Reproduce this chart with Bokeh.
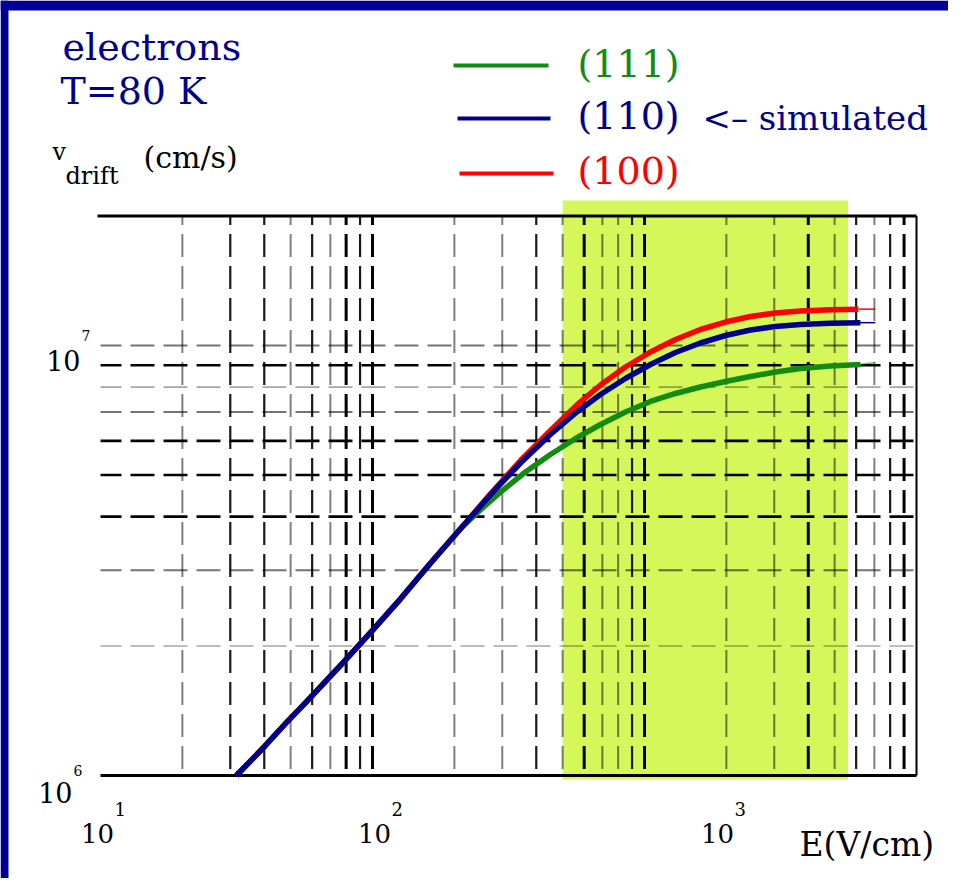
import math
from bokeh.plotting import figure
from bokeh.models import Range1d
from bokeh.core.properties import value
from bokeh.embed import file_html
from bokeh.resources import INLINE

# ---------------- data ----------------
# electric field E (V/cm) and drift velocity v (cm/s)
e_100 = [31.6, 38.8, 47.9, 57.7, 76.3, 100, 127, 163, 211, 272, 350, 451, 567, 689, 851,
         1052, 1300, 1606, 1985, 2453, 3031, 3746, 4829, 6120]
v_100 = [1.0e6, 1.143e6, 1.321e6, 1.494e6, 1.803e6, 2.174e6, 2.579e6, 3.112e6, 3.753e6, 4.527e6,
         5.403e6, 6.344e6, 7.293e6, 8.093e6, 8.913e6, 9.658e6, 1.0326e7, 1.0894e7, 1.134e7,
         1.168e7, 1.190e7, 1.203e7, 1.211e7, 1.215e7]
e_110 = [31.6, 38.8, 47.9, 57.7, 76.3, 100, 127, 163, 211, 272, 350, 451, 567, 689, 851,
         1052, 1300, 1606, 1985, 2453, 3031, 3746, 4829, 6220]
v_110 = [1.0e6, 1.143e6, 1.321e6, 1.494e6, 1.803e6, 2.174e6, 2.579e6, 3.112e6, 3.753e6, 4.503e6,
         5.330e6, 6.209e6, 7.023e6, 7.692e6, 8.380e6, 9.033e6, 9.632e6, 1.0135e7, 1.055e7,
         1.0866e7, 1.1071e7, 1.119e7, 1.1262e7, 1.130e7]
e_111 = [31.6, 38.8, 47.9, 57.7, 76.3, 100, 127, 163, 211, 250, 296, 365, 451, 558, 689, 851,
         1052, 1300, 1606, 1985, 2453, 3031, 3746, 4829, 6220]
v_111 = [1.0e6, 1.143e6, 1.321e6, 1.494e6, 1.803e6, 2.174e6, 2.579e6, 3.112e6, 3.753e6, 4.155e6,
         4.564e6, 5.079e6, 5.578e6, 6.077e6, 6.551e6, 7.004e6, 7.410e6, 7.734e6, 8.008e6,
         8.247e6, 8.471e6, 8.677e6, 8.842e6, 8.961e6, 9.033e6]
# thin end pieces of the simulated curves
ext_e = [6150, 7060]
ext_v_100 = [1.215e7, 1.215e7]
ext_v_110 = [1.130e7, 1.130e7]
ext_v_111 = [9.03e6, 9.13e6]

# axes
x_min, x_max = 10, 1e4
y_min, y_max = 1e6, 2e7
x_tick_values = [10, 100, 1000]
x_tick_exps = ["1", "2", "3"]
y_tick_values = [1e6, 1e7]
y_tick_exps = ["6", "7"]

# dashed grid of the original graph
vgrid_heavy = [80, 100, 600, 1000, 4000, 9000]
vgrid_dark = [30, 40, 60, 90, 400, 900, 6000, 8000]
vgrid_gray = [20, 50, 70, 200, 300, 500, 700, 800, 2000, 3000, 5000, 7000]
hgrid_dark = [4e6, 5e6, 6e6, 9e6]
hgrid_gray = [3e6, 7e6, 1e7]
hgrid_light = [2e6, 8e6]

# highlighted field range
band_e = [500, 5600]

# ---------------- geometry ----------------
W, H = 948, 878
OFF = 0
PX_LEFT, PX_DEC = 100.0, 272.0     # page x of E=10, pixels per decade
PY_BOT, PY_DEC = 775.0, 430.0      # page y of v=1e6, pixels per decade


def X(px):
    return 10 ** (1 + (px - PX_LEFT) / PX_DEC)


def Y(py):
    return 10 ** (6 + (PY_BOT - py) / PY_DEC)


def pxof(e):
    return PX_LEFT + PX_DEC * (math.log10(e) - 1)


def pyof(v):
    return PY_BOT - PY_DEC * (math.log10(v) - 6)


p = figure(width=W, height=H, x_axis_type="log", y_axis_type="log",
           x_range=Range1d(X(OFF), X(OFF + W)), y_range=Range1d(Y(OFF + H), Y(OFF)),
           x_axis_location=None, y_axis_location=None,
           output_backend="svg", toolbar_location=None, title=None,
           min_border_left=0, min_border_right=0, min_border_top=0, min_border_bottom=0)
p.grid.visible = False
p.outline_line_color = None
p.background_fill_color = "white"
p.border_fill_color = "white"

SERIF = value("DejaVu Serif")
DARKBLUE = "#00008b"
GREEN = "#118c11"
RED = "#ff0000"
BLUE = "#000088"

# blue slide border strips (top and left)
p.quad(left=[X(OFF), X(OFF)], right=[X(OFF + W), X(8)], bottom=[Y(10), Y(OFF + H)],
       top=[Y(OFF), Y(OFF)], fill_color="#000099", line_color=None)

# yellow-green band
p.quad(left=[band_e[0]], right=[band_e[1]], bottom=[Y(779)], top=[Y(200)],
       fill_color="#d6f75a", line_color=None)


def vlines(vals, width, alpha):
    p.segment(x0=vals, y0=[y_max] * len(vals), x1=vals, y1=[y_min] * len(vals),
              line_color="black", line_alpha=alpha, line_width=width,
              line_dash="23 9", line_dash_offset=14)


def hlines(vals, width, alpha):
    p.segment(x0=[x_min] * len(vals), y0=vals, x1=[10500] * len(vals), y1=vals,
              line_color="black", line_alpha=alpha, line_width=width,
              line_dash="24 9", line_dash_offset=3)


hlines(hgrid_light, 1.6, 0.35)
hlines(hgrid_gray, 2.0, 0.55)
vlines(vgrid_gray, 2.0, 0.5)
hlines(hgrid_dark, 2.6, 1.0)
vlines(vgrid_dark, 2.2, 0.9)
vlines(vgrid_heavy, 3.0, 1.0)

# frame: top, bottom, right
p.segment(x0=[X(97), x_min], y0=[y_max, y_min], x1=[x_max, x_max], y1=[y_max, y_min],
          line_color="black", line_width=3)
p.segment(x0=[x_max], y0=[y_max], x1=[x_max], y1=[y_min], line_color="black", line_width=2)

# curves
p.line(e_111, v_111, line_color=GREEN, line_width=5.5, line_join="round")
p.line(e_100, v_100, line_color=RED, line_width=5.5, line_join="round")
p.line(e_110, v_110, line_color=BLUE, line_width=5.5, line_join="round")
p.line(ext_e, ext_v_111, line_color=GREEN, line_width=1.5, line_alpha=0.6)
p.line(ext_e, ext_v_100, line_color=RED, line_width=1.5)
p.line(ext_e, ext_v_110, line_color=BLUE, line_width=1.5)

# tick labels
x_shift = [-3, 2, 73]
p.text(x=[X(pxof(t) + s) for t, s in zip(x_tick_values, x_shift)], y=[Y(833)] * 3,
       text=["10"] * 3, text_font=SERIF, text_font_size=value("26px"),
       text_align="center", text_baseline="alphabetic", text_color="black")
p.text(x=[X(pxof(t) + s + 17) for t, s in zip(x_tick_values, x_shift)], y=[Y(808)] * 3,
       text=x_tick_exps, text_font=SERIF, text_font_size=value("18px"),
       text_align="left", text_baseline="alphabetic", text_color="black")
y_shift_x = [72, 80]
p.text(x=[X(r) for r in y_shift_x], y=[Y(pyof(v) + off) for v, off in zip(y_tick_values, [17, 15])],
       text=["10", "10"], text_font=SERIF, text_font_size=value("27px"),
       text_align="right", text_baseline="alphabetic", text_color="black")
p.text(x=[X(r + 1) for r in y_shift_x], y=[Y(pyof(v) + off) for v, off in zip(y_tick_values, [-5, -10])],
       text=y_tick_exps, text_font=SERIF, text_font_size=value("14px"),
       text_align="left", text_baseline="alphabetic", text_color="black")

# axis titles
p.text(x=[X(799)], y=[Y(863)], text=["E(V/cm)"], text_font=SERIF,
       text_font_size=value("33px"), text_color="black")
p.text(x=[X(52)], y=[Y(165)], text=["v"], text_font=SERIF,
       text_font_size=value("24px"), text_color="black")
p.text(x=[X(65)], y=[Y(189)], text=["drift"], text_font=SERIF,
       text_font_size=value("24px"), text_color="black")
p.text(x=[X(143)], y=[Y(174)], text=["(cm/s)"], text_font=SERIF,
       text_font_size=value("30px"), text_color="black")

# annotation text
p.text(x=[X(62), X(60)], y=[Y(68), Y(112)], text=["electrons", "T=80 K"], text_font=SERIF,
       text_font_size=value("38px"), text_color=DARKBLUE)

# legend
p.segment(x0=[X(453)], y0=[Y(65)], x1=[X(548)], y1=[Y(65)], line_color=GREEN, line_width=4)
p.segment(x0=[X(457)], y0=[Y(118)], x1=[X(550)], y1=[Y(118)], line_color=BLUE, line_width=4)
p.segment(x0=[X(459)], y0=[Y(173)], x1=[X(553)], y1=[Y(173)], line_color=RED, line_width=4)
p.text(x=[X(577)], y=[Y(85)], text=["(111)"], text_font=SERIF,
       text_font_size=value("38px"), text_color=GREEN)
p.text(x=[X(577)], y=[Y(137)], text=["(110)"], text_font=SERIF,
       text_font_size=value("38px"), text_color=DARKBLUE)
p.text(x=[X(702)], y=[Y(137)], text=["<\u2013 simulated"], text_font=SERIF,
       text_font_size=value("34px"), text_color=DARKBLUE)
p.text(x=[X(577)], y=[Y(192)], text=["(100)"], text_font=SERIF,
       text_font_size=value("38px"), text_color=RED)

open("out.html", "w").write(file_html(p, INLINE))
